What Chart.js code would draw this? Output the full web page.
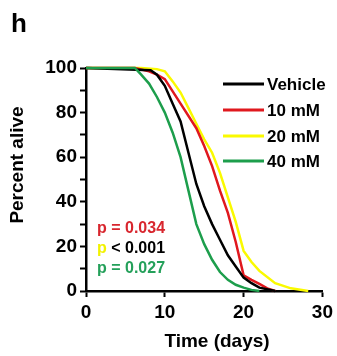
<!DOCTYPE html>
<html>
<head>
<meta charset="utf-8">
<script src="https://cdn.jsdelivr.net/npm/chart.js@4"></script>
<style>
  html, body { margin: 0; padding: 0; background: #fff; }
  #wrap { width: 337px; height: 356px; }
</style>
</head>
<body>
<div id="wrap"><canvas id="survivalChart" width="337" height="356"></canvas></div>
<script>
// survival curves (days, percent alive)
const vehicleDays = [0, 8.2, 9, 10, 11, 12, 13, 14, 15, 16, 17, 18, 19, 20, 21, 22, 24];
const vehicleAlive = [100, 99, 97, 92, 84, 76, 62, 48, 38, 30, 23, 16, 11, 6, 3.5, 1.5, 0];

const mM10Days = [0, 6.2, 8, 9, 10, 12, 14, 15, 16, 17, 18, 19, 20, 21, 22, 23, 24];
const mM10Alive = [100, 100, 98.5, 97, 95, 84, 73, 65, 56, 45, 35, 22, 7, 5, 3.2, 1.2, 0];

const mM20Days = [0, 7, 9, 10, 11, 12, 13, 14, 15, 16, 17, 18, 19, 20, 21, 22, 24, 26, 28.2];
const mM20Alive = [100, 100, 99.5, 98.5, 94, 89, 82, 75, 68, 62, 53, 42, 31, 18, 13, 9, 3.5, 1.2, 0];

const mM40Days = [0, 6.2, 7, 8, 9, 10, 11, 12, 13, 14, 15, 16, 17, 18, 19, 20, 21, 22];
const mM40Alive = [100, 100, 97, 93, 87, 80, 71, 60, 45, 30, 21, 14, 8.5, 5, 2.8, 1.5, 0.5, 0];

const seriesLabels = ['Vehicle', '10 mM', '20 mM', '40 mM'];
const seriesColors = ['#000000', '#e0181e', '#fafa00', '#1d9e4c'];

// p values shown in the lower left corner
const pValueLines = [
    { parts: [['p = 0.034', '#d8262e']] },
    { parts: [['p', '#f2f200'], [' < 0.001', '#000000']] },
    { parts: [['p = 0.027', '#24a05a']] },
];

const FONT = '"Liberation Sans", Arial, sans-serif';

function toPoints(xs, ys) {
    return xs.map((x, i) => ({ x: x, y: ys[i] }));
}

// Texte und Legende selbst zeichnen
const annotationPlugin = {
    id: 'annotations',
    afterDraw(chart) {
        const ctx = chart.ctx;
        ctx.save();
        ctx.fillStyle = '#000';

        // panel letter
        ctx.font = 'bold 26px ' + FONT;
        ctx.textAlign = 'left';
        ctx.textBaseline = 'alphabetic';
        ctx.fillText('h', 11, 32);

        // axis titles
        ctx.font = 'bold 19px ' + FONT;
        ctx.textAlign = 'center';
        ctx.fillText('Time (days)', 217, 347);
        ctx.save();
        ctx.translate(23, 165);
        ctx.rotate(-Math.PI / 2);
        ctx.fillText('Percent alive', 0, 0);
        ctx.restore();

        // legend
        const legendY = [84, 110, 136, 161];
        ctx.font = 'bold 17px ' + FONT;
        ctx.textAlign = 'left';
        ctx.textBaseline = 'middle';
        seriesLabels.forEach((label, i) => {
            ctx.strokeStyle = seriesColors[i];
            ctx.lineWidth = 3;
            ctx.beginPath();
            ctx.moveTo(223, legendY[i]);
            ctx.lineTo(264, legendY[i]);
            ctx.stroke();
            ctx.fillStyle = '#000';
            ctx.fillText(label, 267, legendY[i] + 1);
        });

        // p values
        ctx.font = 'bold 16px ' + FONT;
        ctx.textBaseline = 'alphabetic';
        pValueLines.forEach((line, i) => {
            let x = 97;
            const y = 233 + i * 20;
            line.parts.forEach(([text, color]) => {
                ctx.fillStyle = color;
                ctx.fillText(text, x, y);
                x += ctx.measureText(text).width;
            });
        });
        ctx.restore();
    }
};

const ctx = document.getElementById('survivalChart').getContext('2d');
const survivalChart = new Chart(ctx, {
    type: 'line',
    data: {
        datasets: [
            { label: seriesLabels[0], data: toPoints(vehicleDays, vehicleAlive), borderColor: seriesColors[0], order: 1 },
            { label: seriesLabels[1], data: toPoints(mM10Days, mM10Alive), borderColor: seriesColors[1], order: 2 },
            { label: seriesLabels[2], data: toPoints(mM20Days, mM20Alive), borderColor: seriesColors[2], order: 3 },
            { label: seriesLabels[3], data: toPoints(mM40Days, mM40Alive), borderColor: seriesColors[3], order: 0 },
        ],
    },
    options: {
        responsive: false,
        animation: false,
        devicePixelRatio: 1,
        layout: { padding: { top: 68, right: 13, left: 0, bottom: 0 } },
        elements: {
            line: { borderWidth: 2.5, tension: 0 },
            point: { radius: 0 },
        },
        datasets: { line: { clip: 4 } },
        plugins: {
            legend: { display: false },
            tooltip: { enabled: false },
        },
        scales: {
            x: {
                type: 'linear',
                min: 0,
                max: 30,
                afterFit: (scale) => { scale.height = 65; },
                border: { display: true, color: '#000', width: 2.5 },
                grid: { drawOnChartArea: false, drawTicks: true, tickLength: 6, tickColor: '#000', tickWidth: 2 },
                ticks: {
                    stepSize: 10,
                    color: '#000',
                    padding: 4,
                    font: { family: FONT, size: 19, weight: 'bold' },
                },
            },
            y: {
                min: 0,
                max: 100,
                afterFit: (scale) => { scale.width = 86; },
                border: { display: true, color: '#000', width: 2.5 },
                grid: { drawOnChartArea: false, drawTicks: true, tickLength: 6, tickColor: '#000', tickWidth: 2 },
                ticks: {
                    stepSize: 10,
                    autoSkip: false,
                    color: '#000',
                    padding: 3,
                    font: { family: FONT, size: 19, weight: 'bold' },
                    callback: (v) => (v % 20 === 0 ? v : ''),
                },
            },
        },
    },
    plugins: [annotationPlugin],
});
</script>
</body>
</html>
